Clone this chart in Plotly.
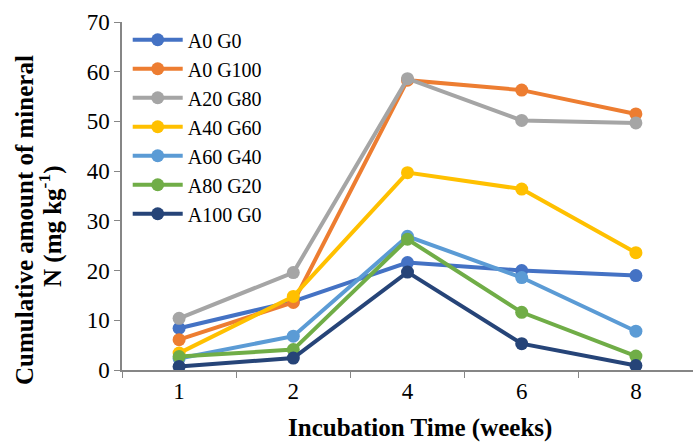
import plotly.graph_objects as go

weeks = ["1", "2", "4", "6", "8"]
series_names = ["A0 G0", "A0 G100", "A20 G80", "A40 G60", "A60 G40", "A80 G20", "A100 G0"]
a0_g0 = [8.4, 13.8, 21.6, 20.0, 19.0]
a0_g100 = [6.1, 13.6, 58.3, 56.3, 51.5]
a20_g80 = [10.4, 19.6, 58.6, 50.2, 49.7]
a40_g60 = [3.4, 14.8, 39.7, 36.4, 23.6]
a60_g40 = [2.3, 6.8, 26.9, 18.6, 7.8]
a80_g20 = [2.7, 4.1, 26.3, 11.6, 2.8]
a100_g0 = [0.7, 2.4, 19.7, 5.3, 0.9]
colors = ["#4472C4", "#ED7D31", "#A5A5A5", "#FFC000", "#5B9BD5", "#70AD47", "#264478"]

x_title = "Incubation Time (weeks)"
y_title_line1 = "Cumulative amount of mineral"
y_title_line2 = "N (mg kg<sup>-1</sup>)"

all_series = [a0_g0, a0_g100, a20_g80, a40_g60, a60_g40, a80_g20, a100_g0]

fig = go.Figure()
for name, vals, col in zip(series_names, all_series, colors):
    fig.add_trace(go.Scatter(
        x=weeks, y=vals, name=name, mode="lines+markers",
        line=dict(color=col, width=4),
        marker=dict(color=col, size=13),
    ))

font_family = "Liberation Serif, Times New Roman, serif"
W, H = 693, 442
L, R, T, B = 122, 0, 22, 72
pw, ph = W - L - R, H - T - B


def px_x(px):
    return (px - L) / pw


def px_y(py):
    return (H - B - py) / ph


fig.update_layout(
    width=W, height=H,
    margin=dict(l=L, r=R, t=T, b=B),
    paper_bgcolor="white", plot_bgcolor="white",
    font=dict(family=font_family, size=23, color="black"),
    showlegend=True,
    legend=dict(x=0.01, y=1.005, xanchor="left", yanchor="top",
                bgcolor="rgba(0,0,0,0)", font=dict(size=20, family=font_family),
                tracegroupgap=0, itemwidth=50),
    xaxis=dict(
        type="category", range=[-0.5, 4.5],
        showline=True, linecolor="#868686", linewidth=1.5,
        ticks="outside", tickson="boundaries", ticklen=6, tickcolor="#868686",
        showgrid=False, zeroline=False,
        tickfont=dict(size=23, family=font_family),
    ),
    yaxis=dict(
        range=[0, 70], dtick=10,
        showline=True, linecolor="#868686", linewidth=1.5,
        ticks="outside", ticklen=6, tickcolor="#868686",
        showgrid=False, zeroline=False,
        tickfont=dict(size=23, family=font_family),
    ),
    annotations=[
        dict(text="<b>" + x_title + "</b>", xref="paper", yref="paper",
             x=px_x(419.5), y=px_y(428), xanchor="center", yanchor="middle",
             showarrow=False, font=dict(size=25, family=font_family, color="black")),
        dict(text="<b>" + y_title_line1 + "</b>", xref="paper", yref="paper",
             x=px_x(24), y=px_y(220), xanchor="center", yanchor="middle", textangle=-90,
             showarrow=False, font=dict(size=25, family=font_family, color="black")),
        dict(text="<b>" + y_title_line2 + "</b>", xref="paper", yref="paper",
             x=px_x(50), y=px_y(226), xanchor="center", yanchor="middle", textangle=-90,
             showarrow=False, font=dict(size=25, family=font_family, color="black")),
    ],
)

fig.write_html("out.html", config={"displayModeBar": False},
               post_script="document.body.style.margin='0';document.body.style.overflow='hidden';")
